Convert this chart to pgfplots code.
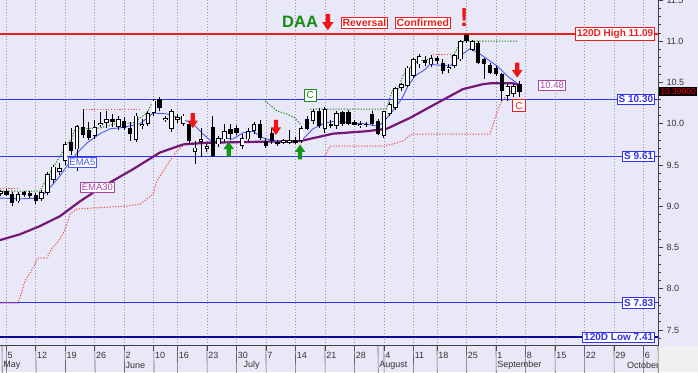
\documentclass[border=0pt]{standalone}
\usepackage{pgfplots}
\pgfplotsset{compat=1.18}
\usepackage{pgfplotstable}
\usepackage{fontspec}
\setmainfont{Liberation Sans}

\definecolor{bgc}{RGB}{232,232,248}
\definecolor{gridc}{RGB}{145,145,160}
\definecolor{emafive}{RGB}{70,90,240}
\definecolor{emath}{RGB}{118,22,118}
\definecolor{emalab}{RGB}{165,70,165}
\definecolor{sblue}{RGB}{50,50,235}
\definecolor{lowblue}{RGB}{10,10,150}
\definecolor{hired}{RGB}{235,30,30}
\definecolor{stopred}{RGB}{245,80,80}
\definecolor{stopgreen}{RGB}{30,140,30}
\definecolor{daagreen}{RGB}{20,140,20}
\definecolor{arrred}{RGB}{240,20,20}
\definecolor{arrgreen}{RGB}{20,150,20}

\pgfdeclareplotmark{darr}{%
  \pgfpathmoveto{\pgfqpoint{-2.1pt}{7.5pt}}%
  \pgfpathlineto{\pgfqpoint{2.1pt}{7.5pt}}%
  \pgfpathlineto{\pgfqpoint{2.1pt}{0pt}}%
  \pgfpathlineto{\pgfqpoint{5.2pt}{0pt}}%
  \pgfpathlineto{\pgfqpoint{0pt}{-7.5pt}}%
  \pgfpathlineto{\pgfqpoint{-5.2pt}{0pt}}%
  \pgfpathlineto{\pgfqpoint{-2.1pt}{0pt}}%
  \pgfpathclose\pgfusepathqfill}
\pgfdeclareplotmark{uarr}{%
  \pgfpathmoveto{\pgfqpoint{-2.1pt}{-7.5pt}}%
  \pgfpathlineto{\pgfqpoint{2.1pt}{-7.5pt}}%
  \pgfpathlineto{\pgfqpoint{2.1pt}{0pt}}%
  \pgfpathlineto{\pgfqpoint{5.2pt}{0pt}}%
  \pgfpathlineto{\pgfqpoint{0pt}{7.5pt}}%
  \pgfpathlineto{\pgfqpoint{-5.2pt}{0pt}}%
  \pgfpathlineto{\pgfqpoint{-2.1pt}{0pt}}%
  \pgfpathclose\pgfusepathqfill}

\newcommand\lblfont{\fontsize{10}{12}\selectfont\bfseries}

% up (white) candles
\pgfplotstableread{
i o h l c
-1 9.15 9.20 9.12 9.18
2 9.06 9.17 9.04 9.15
6 9.09 9.20 9.07 9.17
7 9.16 9.41 9.14 9.39
8 9.32 9.50 9.28 9.48
9 9.42 9.52 9.38 9.46
10 9.55 9.78 9.50 9.75
12 9.69 9.99 9.43 9.97
15 9.85 10.05 9.82 9.96
16 9.98 10.14 9.96 10.01
17 10.01 10.16 9.95 10.06
19 9.96 10.10 9.92 10.06
22 9.80 10.13 9.78 10.10
23 9.97 10.06 9.94 10.00
24 10.00 10.16 9.97 10.13
25 10.13 10.30 10.10 10.28
27 10.04 10.09 10.02 10.07
28 9.94 10.18 9.90 10.15
29 10.05 10.12 10.01 10.08
30 10.00 10.12 9.97 10.10
32 9.66 9.79 9.51 9.71
33 9.78 9.95 9.60 9.81
34 9.70 9.76 9.66 9.73
36 9.75 9.85 9.72 9.83
37 9.81 10.00 9.78 9.91
40 9.73 9.88 9.70 9.83
41 9.81 9.95 9.78 9.91
42 9.91 10.02 9.88 10.00
47 9.77 9.82 9.75 9.80
48 9.77 9.93 9.75 9.80
50 9.79 9.97 9.77 9.95
52 10.03 10.18 10.00 10.15
54 9.94 10.20 9.89 10.18
56 9.97 10.16 9.94 10.13
60 9.97 10.03 9.95 10.00
64 9.85 10.16 9.83 10.15
65 10.12 10.26 10.10 10.24
66 10.19 10.45 10.17 10.43
67 10.43 10.50 10.40 10.48
68 10.46 10.70 10.44 10.68
69 10.58 10.80 10.55 10.78
70 10.72 10.84 10.68 10.82
72 10.72 10.83 10.69 10.80
75 10.66 10.72 10.62 10.69
76 10.70 10.85 10.68 10.83
77 10.78 11.02 10.76 11.00
79 10.90 11.02 10.88 11.00
85 10.34 10.48 10.28 10.46
86 10.36 10.48 10.32 10.46
}\upbars

% down (black) candles
\pgfplotstableread{
i o h l c
0 9.18 9.21 9.12 9.14
1 9.15 9.17 9.00 9.04
3 9.17 9.19 9.11 9.14
4 9.16 9.18 9.10 9.12
5 9.14 9.16 9.03 9.07
11 9.78 9.95 9.62 9.67
13 9.96 10.18 9.83 9.86
14 9.92 10.02 9.80 9.83
18 10.06 10.12 9.96 10.02
20 10.03 10.08 9.93 9.95
21 9.95 10.02 9.79 9.88
26 10.30 10.32 10.15 10.19
31 10.00 10.03 9.76 9.79
35 9.96 10.10 9.60 9.61
38 9.94 10.00 9.80 9.88
39 9.95 9.99 9.86 9.89
43 10.00 10.05 9.80 9.83
44 9.79 9.83 9.71 9.73
45 9.89 9.95 9.76 9.79
46 9.78 9.80 9.73 9.75
49 9.80 9.84 9.75 9.77
51 10.06 10.09 9.92 9.94
53 10.15 10.19 9.95 9.97
55 10.00 10.05 9.95 9.97
57 10.14 10.16 9.97 10.00
58 10.14 10.17 9.98 10.00
59 10.02 10.05 9.98 9.99
61 10.00 10.02 9.96 9.98
62 10.12 10.15 9.98 10.00
63 10.03 10.06 9.86 9.88
71 10.77 10.82 10.70 10.74
73 10.80 10.82 10.72 10.76
74 10.74 10.78 10.60 10.64
78 11.08 11.09 10.98 11.00
80 10.98 11.00 10.72 10.74
81 10.78 10.80 10.54 10.72
82 10.71 10.74 10.60 10.62
83 10.68 10.70 10.58 10.60
84 10.60 10.62 10.28 10.40
87 10.48 10.52 10.33 10.39
}\downbars

\pgfplotsset{
  eb/.style 2 args={draw=none, mark=none, forget plot,
    error bars/.cd, y dir=plus, y explicit, error mark=none,
    error bar style={draw=#1, line width=#2}},
  stopline/.style={line width=1pt, dash pattern=on 1.3pt off 1.5pt},
}

\begin{document}
\begin{tikzpicture}
\useasboundingbox (0,0) rectangle (698pt,372pt);
\fill[bgc] (0,0) rectangle (698pt,372pt);
\fill[gray!12] (658pt,0) rectangle (698pt,26.3pt);
\begin{axis}[
  at={(0,26.3pt)}, anchor=south west,
  width=658pt, height=345.7pt, scale only axis,
  xmin=-1.068, xmax=110.47, ymin=7.31, ymax=11.5,
  clip=false,
  axis background/.style={fill=bgc},
  axis x line*=bottom, axis y line*=right,
  axis line style={-, draw=black!75, line width=0.8pt},
  tick align=outside,
  major tick length=5pt, minor tick length=3pt,
  tick style={black!75, line width=0.6pt},
  ytick={7.5,8.0,...,11.5},
  minor ytick={7.4,7.5,...,11.45},
  /pgf/number format/assume math mode=true,
  yticklabel style={/pgf/number format/.cd, fixed, fixed zerofill, precision=1},
  tick label style={font=\fontsize{9}{10}\selectfont, text=black!80},
  xtick={0,5,10,15,20,25,29,34,39,44,49,54,59,64,69,73,78,83,88,93,98,103,108},
  xticklabels={5,12,19,26,2,10,16,23,30,7,14,21,28,4,11,18,25,1,8,15,22,29,6},
  xticklabel style={anchor=north west, inner sep=0pt, xshift=1.2pt, yshift=-1.5pt},
  xmajorgrids,
  grid style={gridc, dash pattern=on 1pt off 2pt, line width=0.6pt},
]

% horizontal levels
\addplot[hired, line width=1.5pt] coordinates {(-1.068,11.09) (110.47,11.09)};
\addplot[sblue, line width=0.9pt] coordinates {(-1.068,10.30) (110.47,10.30)};
\addplot[sblue, line width=0.9pt] coordinates {(-1.068,9.61) (110.47,9.61)};
\addplot[sblue, line width=0.9pt] coordinates {(-1.068,7.83) (110.47,7.83)};
\addplot[lowblue, line width=2pt] coordinates {(-1.068,7.41) (110.47,7.41)};

% stop lines
\addplot[stopred, stopline] coordinates {(-1.068,7.827) (1.98,7.827) (2.32,7.89) (3.17,8.094) (4.53,8.25) (5.37,8.373) (6.9,8.373) (7.75,8.494) (8.6,8.555) (9.6,8.664) (10.3,8.785) (10.8,8.906) (12.0,8.967) (14.7,8.979) (20.5,9.003) (22.7,9.027) (24.9,9.148) (25.5,9.306) (26.6,9.427) (27.7,9.548) (28.9,9.67) (29.9,9.73) (30.6,9.767) (34.0,9.767)};
\addplot[stopred, stopline] coordinates {(54.0,9.609) (54.9,9.73) (64.2,9.73) (67.2,9.79) (68.8,9.876) (82.0,9.876) (82.8,10.058) (83.7,10.24) (84.9,10.36) (85.9,10.42)};
\addplot[stopred, stopline] coordinates {(-1.068,9.221) (1.8,9.221)};
\addplot[stopred, stopline] coordinates {(13.0,10.179) (22.7,10.179)};
\addplot[stopred, stopline] coordinates {(72.3,10.845) (75.2,10.845)};
\addplot[stopgreen, stopline] coordinates {(-1.068,9.185) (5.7,9.185) (6.9,9.342) (7.9,9.464) (9.6,9.67) (10.3,9.755) (11.1,9.815) (11.6,9.936) (15.9,9.948) (18.9,10.009) (21.5,10.009) (23.8,10.13) (24.9,10.276)};
\addplot[stopgreen, stopline] coordinates {(43.5,10.30) (45.9,10.155) (47.6,10.118) (48.9,10.07) (49.8,9.997)};
\addplot[stopgreen, stopline] coordinates {(51.5,10.179) (64.4,10.179) (65.4,10.397) (66.4,10.421) (67.2,10.579) (68.4,10.676) (69.8,10.761) (72.3,10.785)};
\addplot[stopgreen, stopline] coordinates {(75.5,10.80) (76.9,10.967) (77.7,11.003) (86.6,11.003)};

% EMA lines
\addplot[emath, line width=2.2pt, line join=round] coordinates {(-1.068,8.59) (2.3,8.66) (5.7,8.76) (9.1,8.88) (12.5,9.06) (15.9,9.22) (21.5,9.45) (26,9.65) (30,9.75) (34,9.77) (41.3,9.78) (49.8,9.79) (55.4,9.88) (61.1,9.91) (64.5,9.94) (68.4,10.07) (73,10.25) (77.4,10.42) (80.8,10.48) (82,10.49) (85.9,10.49) (87,10.47)};
\addplot[emafive, line width=0.9pt, line join=round] coordinates {(-1.068,9.10) (2.3,9.09) (5.7,9.10) (6.9,9.185) (8.8,9.34) (10.3,9.49) (12.0,9.645) (13.7,9.77) (15.9,9.88) (17.6,9.94) (19.3,9.95) (22.7,10.0) (24.9,10.13) (27.2,10.12) (29.4,10.07) (31.6,10.0) (33.3,9.88) (35.0,9.77) (36.7,9.83) (38.4,9.815) (40.1,9.89) (41.8,9.91) (43.5,9.83) (45.9,9.78) (48.6,9.77) (50.3,9.815) (52.0,9.94) (54.0,10.01) (55.7,10.03) (57.9,10.01) (60.8,10.0) (62.8,9.97) (63.8,10.01) (65.5,10.155) (67.1,10.31) (68.1,10.46) (69.3,10.58) (71.0,10.66) (71.8,10.72) (73.5,10.71) (75.2,10.70) (76.9,10.82) (78.6,10.91) (80.0,10.86) (81.5,10.785) (83.2,10.70) (84.9,10.58) (86.6,10.49) (87.1,10.47)};

% candles: wicks
\addplot[eb={black}{0.9pt}] table[x=i, y=l, y error expr=\thisrow{h}-\thisrow{l}] {\upbars};
\addplot[eb={black}{0.9pt}] table[x=i, y=l, y error expr=\thisrow{h}-\thisrow{l}] {\downbars};
% white bodies
\addplot[eb={black}{4.4pt}] table[x=i, y=o, y error expr=\thisrow{c}-\thisrow{o}] {\upbars};
\addplot[eb={white}{2.6pt}] table[x=i, y expr=\thisrow{o}+0.0097, y error expr=\thisrow{c}-\thisrow{o}-0.0194] {\upbars};
% black bodies
\addplot[eb={black}{4.4pt}] table[x=i, y=c, y error expr=\thisrow{o}-\thisrow{c}] {\downbars};

% signal arrows
\addplot[only marks, mark=darr, color=arrred] coordinates {(31.6,10.039) (45.7,9.955) (86.6,10.65)};
\addplot[only marks, mark=uarr, color=arrgreen] coordinates {(37.7,9.694) (49.8,9.658)};
\addplot[only marks, mark=darr, color=arrred, mark options={scale=1.1}] coordinates {(54.5,11.233)};

% top annotation
\node[font=\fontsize{16.5}{18}\selectfont\bfseries, text=daagreen] at (axis cs:49.8,11.233) {DAA};
\node[draw=hired, fill=white, text=hired, line width=0.7pt, font=\fontsize{10.5}{12}\selectfont\bfseries, inner sep=1.5pt] at (axis cs:60.7,11.225) {Reversal};
\node[draw=hired, fill=white, text=hired, line width=0.7pt, font=\fontsize{10.5}{12}\selectfont\bfseries, inner sep=1.5pt] at (axis cs:70.6,11.225) {Confirmed};
\node[text=arrred, font=\fontsize{26}{28}\selectfont\bfseries] at (axis cs:77.6,11.29) {!};

% level labels
\node[draw=hired, fill=white, text=hired, font=\lblfont, inner sep=1.5pt, anchor=east, xshift=-3pt, line width=0.7pt] at (axis cs:110.47,11.09) {120D High 11.09};
\node[draw=sblue, fill=white, text=sblue, font=\lblfont, inner sep=1.5pt, anchor=east, xshift=-3pt, line width=0.7pt] at (axis cs:110.47,10.30) {S 10.30};
\node[draw=sblue, fill=white, text=sblue, font=\lblfont, inner sep=1.5pt, anchor=east, xshift=-3pt, line width=0.7pt] at (axis cs:110.47,9.61) {S 9.61};
\node[draw=sblue, fill=white, text=sblue, font=\lblfont, inner sep=1.5pt, anchor=east, xshift=-3pt, line width=0.7pt] at (axis cs:110.47,7.83) {S 7.83};
\node[draw=sblue, fill=white, text=sblue, font=\lblfont, inner sep=1.5pt, anchor=east, xshift=-3pt, line width=0.7pt] at (axis cs:110.47,7.41) {120D Low 7.41};

% indicator labels
\node[draw=emafive, fill=white, text=emafive, font=\fontsize{9.5}{10}\selectfont, inner sep=1.5pt, line width=0.7pt] at (axis cs:12.9,9.536) {EMA5};
\node[draw=emalab, fill=white, text=emalab, font=\fontsize{9.5}{10}\selectfont, inner sep=1.5pt, line width=0.7pt] at (axis cs:15.45,9.233) {EMA30};
\node[draw=emalab, fill=white, text=emalab, font=\fontsize{9.5}{10}\selectfont, inner sep=1.5pt, line width=0.7pt] at (axis cs:92.5,10.47) {10.48};
\node[draw=stopgreen, fill=white, text=stopgreen, font=\fontsize{10}{10}\selectfont, inner sep=0pt, minimum width=12.5pt, minimum height=12pt, line width=0.7pt] at (axis cs:51.5,10.348) {C};
\node[draw=hired, fill=white, text=hired, font=\fontsize{10}{10}\selectfont, inner sep=0pt, minimum width=12.5pt, minimum height=12pt, line width=0.7pt] at (axis cs:86.9,10.22) {C};

% current price
\node[fill=black, text=red, font=\fontsize{8.5}{9}\selectfont, inner sep=1.2pt, anchor=west, xshift=1pt] at (axis cs:110.47,10.39) {10.39000};

% date rows
\pgfplotsinvokeforeach{-0.73,0,5,10,15,20,25,29,34,39,44,49,54,59,63,64,69,73,78,83,88,93,98,103,108}{
  \draw[black!60, line width=0.6pt] (axis cs:#1,7.31) -- ++(0,-15pt);
}
\pgfplotsinvokeforeach{-0.73,20,40,63,83,105}{
  \draw[black!60, line width=0.6pt] (axis cs:#1,7.31) ++(0,-15pt) -- ++(0,-11.3pt);
}
\draw[black!60, line width=0.6pt] (axis cs:110.47,7.31) -- ++(0,-26.3pt);
\coordinate (m1) at (axis cs:-0.73,7.31);
\coordinate (m2) at (axis cs:20,7.31);
\coordinate (m3) at (axis cs:40,7.31);
\coordinate (m4) at (axis cs:63,7.31);
\coordinate (m5) at (axis cs:83,7.31);
\coordinate (m6) at (axis cs:105,7.31);
\end{axis}
\begin{scope}[font=\fontsize{9}{10}\selectfont, text=black!80]
\clip (0,0) rectangle (657.5pt,26.3pt);
\node[anchor=west, inner sep=0pt] at ([xshift=1.2pt,yshift=-19.3pt]m1) {May};
\node[anchor=west, inner sep=0pt] at ([xshift=1.2pt,yshift=-19.3pt]m2) {June};
\node[anchor=west, inner sep=0pt] at ([xshift=1.2pt,yshift=-19.3pt]m3) {July};
\node[anchor=west, inner sep=0pt] at ([xshift=1.2pt,yshift=-19.3pt]m4) {August};
\node[anchor=west, inner sep=0pt] at ([xshift=1.2pt,yshift=-19.3pt]m5) {September};
\node[anchor=west, inner sep=0pt] at ([xshift=1.2pt,yshift=-19.3pt]m6) {October};
\end{scope}
\end{tikzpicture}
\end{document}
